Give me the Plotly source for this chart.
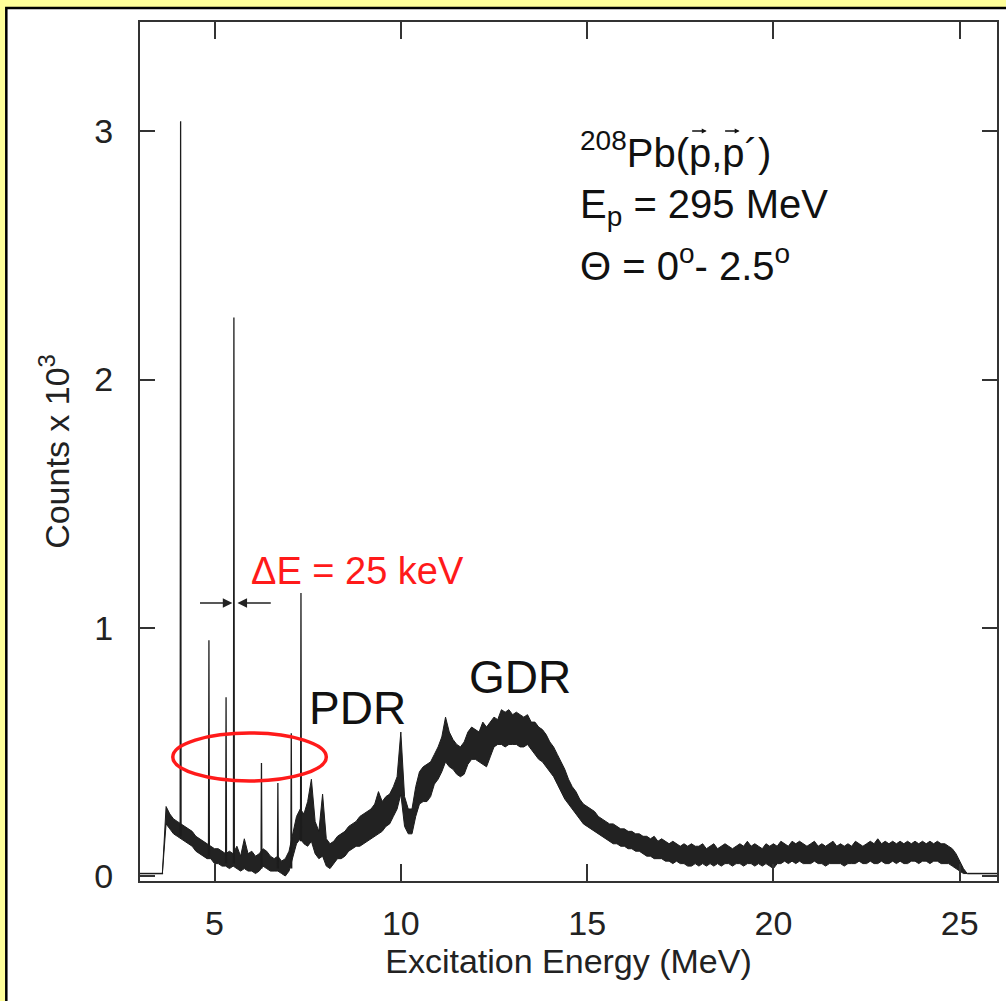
import numpy as np
import plotly.graph_objects as go

# ---------------- data ----------------
# continuum envelope, 0.1 MeV grid starting at 3.6 MeV (counts x 10^3)
upper = [
    0.01, 0.28, 0.25, 0.23,                                      # 3.6-3.9
    0.22, 0.21, 0.20, 0.19, 0.18, 0.16, 0.15, 0.14, 0.13, 0.12,  # 4.0-4.9
    0.11, 0.11, 0.10, 0.09, 0.10, 0.09, 0.12, 0.08, 0.15, 0.09,  # 5.0-5.9
    0.10, 0.08, 0.09, 0.11, 0.10, 0.08, 0.07, 0.08, 0.06, 0.07,  # 6.0-6.9
    0.10, 0.17, 0.24, 0.27, 0.25, 0.30, 0.39, 0.22, 0.18, 0.33,  # 7.0-7.9
    0.15, 0.13, 0.14, 0.16, 0.17, 0.18, 0.20, 0.21, 0.22, 0.24,  # 8.0-8.9
    0.25, 0.26, 0.27, 0.29, 0.34, 0.30, 0.32, 0.33, 0.36, 0.40,  # 9.0-9.9
    0.58, 0.32, 0.27, 0.27, 0.36, 0.42, 0.44, 0.45, 0.46, 0.49,  # 10.0-10.9
    0.52, 0.56, 0.64, 0.58, 0.55, 0.53, 0.52, 0.54, 0.58, 0.60,  # 11.0-11.9
    0.59, 0.58, 0.62, 0.60, 0.62, 0.64, 0.63, 0.67, 0.66, 0.67,  # 12.0-12.9
    0.65, 0.66, 0.65, 0.64, 0.65, 0.62, 0.62, 0.60, 0.59, 0.57,  # 13.0-13.9
    0.54, 0.52, 0.49, 0.46, 0.43, 0.39, 0.36, 0.34, 0.31, 0.29,  # 14.0-14.9
    0.28, 0.27, 0.26, 0.24, 0.23, 0.22, 0.21, 0.21, 0.20, 0.19,  # 15.0-15.9
    0.19, 0.18, 0.18, 0.17, 0.17, 0.16, 0.16, 0.15, 0.16, 0.14,  # 16.0-16.9
    0.15, 0.14, 0.13, 0.14, 0.13, 0.12, 0.13, 0.12, 0.13, 0.12,  # 17.0-17.9
    0.12, 0.13, 0.11, 0.12, 0.13, 0.11, 0.12, 0.13, 0.12, 0.11,  # 18.0-18.9
    0.12, 0.13, 0.12, 0.14, 0.12, 0.13, 0.12, 0.11, 0.13, 0.12,  # 19.0-19.9
    0.13, 0.12, 0.14, 0.13, 0.12, 0.14, 0.13, 0.14, 0.13, 0.12,  # 20.0-20.9
    0.13, 0.14, 0.12, 0.13, 0.12, 0.13, 0.14, 0.12, 0.13, 0.12,  # 21.0-21.9
    0.13, 0.12, 0.14, 0.13, 0.12, 0.13, 0.14, 0.13, 0.15, 0.13,  # 22.0-22.9
    0.14, 0.13, 0.14, 0.13, 0.14, 0.13, 0.14, 0.13, 0.14, 0.13,  # 23.0-23.9
    0.14, 0.13, 0.14, 0.13, 0.14, 0.13, 0.13, 0.12, 0.11, 0.09,  # 24.0-24.9
    0.06, 0.03, 0.01,                                            # 25.0-25.2
]
lower = [
    0.01, 0.21, 0.19, 0.17,
    0.16, 0.15, 0.14, 0.13, 0.12, 0.10, 0.09, 0.08, 0.07, 0.07,
    0.05, 0.05, 0.04, 0.04, 0.03, 0.04, 0.03, 0.02, 0.03, 0.02,
    0.02, 0.01, 0.02, 0.04, 0.03, 0.02, 0.02, 0.02, 0.01, 0.00,
    0.02, 0.08, 0.13, 0.15, 0.13, 0.12, 0.14, 0.09, 0.07, 0.08,
    0.04, 0.03, 0.05, 0.07, 0.07, 0.08, 0.10, 0.11, 0.12, 0.12,
    0.13, 0.14, 0.15, 0.16, 0.17, 0.18, 0.20, 0.21, 0.24, 0.27,
    0.33, 0.20, 0.17, 0.17, 0.24, 0.29, 0.30, 0.30, 0.32, 0.37,
    0.39, 0.42, 0.46, 0.44, 0.43, 0.41, 0.40, 0.41, 0.45, 0.47,
    0.47, 0.46, 0.45, 0.44, 0.48, 0.52, 0.53, 0.53, 0.52, 0.53,
    0.53, 0.53, 0.52, 0.52, 0.53, 0.51, 0.49, 0.47, 0.46, 0.44,
    0.42, 0.40, 0.37, 0.34, 0.31, 0.29, 0.27, 0.25, 0.23, 0.21,
    0.20, 0.19, 0.18, 0.17, 0.16, 0.15, 0.14, 0.13, 0.13, 0.12,
    0.12, 0.11, 0.11, 0.10, 0.10, 0.09, 0.08, 0.08, 0.07, 0.07,
    0.07, 0.06, 0.06, 0.05, 0.06, 0.05, 0.05, 0.04, 0.04, 0.05,
    0.04, 0.05, 0.04, 0.05, 0.04, 0.05, 0.04, 0.05, 0.05, 0.04,
    0.05, 0.05, 0.04, 0.05, 0.05, 0.04, 0.05, 0.04, 0.05, 0.04,
    0.03, 0.05, 0.05, 0.06, 0.05, 0.06, 0.05, 0.06, 0.05, 0.05,
    0.05, 0.06, 0.05, 0.05, 0.04, 0.05, 0.05, 0.05, 0.05, 0.04,
    0.05, 0.05, 0.05, 0.06, 0.05, 0.05, 0.06, 0.05, 0.05, 0.06,
    0.05, 0.05, 0.06, 0.05, 0.06, 0.05, 0.05, 0.06, 0.06, 0.05,
    0.06, 0.06, 0.05, 0.06, 0.06, 0.05, 0.05, 0.05, 0.04, 0.03,
    0.02, 0.01, 0.01,
]
grid_start = 3.6
grid_step = 0.1

# flat zero-count regions outside the measured window
baseline_low_E = [3.0, 3.62]
baseline_high_E = [25.2, 26.0]
baseline_value = 0.01

# sharp discrete transitions (MeV, peak height, local continuum)
peak_E = [4.09, 4.85, 5.31, 5.52, 6.26, 6.70, 7.06, 7.32]
peak_height = [3.04, 0.95, 0.72, 2.25, 0.455, 0.375, 0.575, 1.14]
peak_base = [0.16, 0.08, 0.05, 0.05, 0.03, 0.03, 0.03, 0.14]

x_ticks = [5, 10, 15, 20, 25]
y_ticks = [0, 1, 2, 3]

# ---------------- figure ----------------
energy = np.round(grid_start + grid_step * np.arange(len(upper)), 2)

FONT = "Liberation Sans, Arial, sans-serif"
INK = "#1c1c1c"
PLOT_H = 859.0


def py2paper(py):
    return (881 - py) / PLOT_H


def px2paper(px):
    return (px - 140) / PLOT_H


fig = go.Figure()

fig.add_trace(go.Scatter(x=energy, y=lower, mode="lines",
                         line=dict(color=INK, width=1), hoverinfo="skip", showlegend=False))
fig.add_trace(go.Scatter(x=energy, y=upper, mode="lines", fill="tonexty",
                         fillcolor="#222222",
                         line=dict(color=INK, width=1), hoverinfo="skip", showlegend=False))

for bE in (baseline_low_E, baseline_high_E):
    fig.add_trace(go.Scatter(x=bE, y=[baseline_value] * len(bE), mode="lines",
                             line=dict(color=INK, width=1.5), hoverinfo="skip", showlegend=False))

px_, py_ = [], []
for e, h, b in zip(peak_E, peak_height, peak_base):
    px_ += [e - 0.012, e, e + 0.012, None]
    py_ += [b, h, b, None]
fig.add_trace(go.Scatter(x=px_, y=py_, mode="lines",
                         line=dict(color=INK, width=1.3), hoverinfo="skip", showlegend=False))

# white panel with black border on yellow background
fig.add_shape(type="rect", xref="paper", yref="paper",
              x0=px2paper(6), x1=1.05, y0=-0.2, y1=py2paper(8),
              fillcolor="white", line=dict(color="black", width=2.5), layer="below")

# red ellipse
fig.add_shape(type="circle", xref="x", yref="y",
              x0=3.88, x1=8.0, y0=0.383, y1=0.576,
              line=dict(color="#ff1a1a", width=3.5))

ann_font = dict(family=FONT, size=40, color="#111")
fig.add_annotation(x=px2paper(579), y=py2paper(150), xref="paper", yref="paper",
                   text="<sup>208</sup>Pb(p,p\u00b4)", showarrow=False,
                   xanchor="left", yanchor="middle", font=ann_font)
# vector arrows over the two p's (drawn as small arrow marks)
for ax_px in (700, 733):
    fig.add_annotation(x=px2paper(ax_px + 8), y=py2paper(131), xref="paper", yref="paper",
                       ax=-16, ay=0, text="", showarrow=True, arrowhead=2,
                       arrowsize=0.7, arrowwidth=1.4, arrowcolor="#111")
fig.add_annotation(x=px2paper(579), y=py2paper(207), xref="paper", yref="paper",
                   text="E<sub>p</sub> = 295 MeV", showarrow=False,
                   xanchor="left", yanchor="middle", font=ann_font)
fig.add_annotation(x=px2paper(579), y=py2paper(263), xref="paper", yref="paper",
                   text="\u0398 = 0<sup>o</sup>- 2.5<sup>o</sup>", showarrow=False,
                   xanchor="left", yanchor="middle", font=ann_font)

fig.add_annotation(x=8.85, y=0.675, text="PDR", showarrow=False,
                   font=dict(family=FONT, size=46, color="#111"))
fig.add_annotation(x=13.2, y=0.80, text="GDR", showarrow=False,
                   font=dict(family=FONT, size=46, color="#111"))

fig.add_annotation(x=5.93, y=1.23, text="\u0394E = 25 keV", showarrow=False,
                   xanchor="left", yanchor="middle",
                   font=dict(family=FONT, size=38, color="#ff1a1a"))

# resolution arrows
fig.add_annotation(x=5.48, y=1.10, ax=4.57, ay=1.10, axref="x", ayref="y",
                   text="", showarrow=True, arrowhead=2, arrowsize=1.2,
                   arrowwidth=1.6, arrowcolor="#222")
fig.add_annotation(x=5.615, y=1.10, ax=6.55, ay=1.10, axref="x", ayref="y",
                   text="", showarrow=True, arrowhead=2, arrowsize=1.2,
                   arrowwidth=1.6, arrowcolor="#222")

axis_common = dict(showline=True, linecolor="#333", linewidth=2, mirror="ticks",
                   ticks="inside", tickcolor="#333", tickwidth=1.5,
                   showgrid=False, zeroline=False,
                   tickfont=dict(family=FONT, size=34, color="#222"))

fig.update_xaxes(range=[3.0, 26.0], tickvals=x_ticks, ticklen=17,
                 ticklabelstandoff=11,
                 title=dict(text="Excitation Energy (MeV)", standoff=8,
                            font=dict(family=FONT, size=34, color="#222")),
                 **axis_common)
fig.update_yaxes(range=[-0.02, 3.44], tickvals=y_ticks, ticklen=15,
                 ticklabelstandoff=18,
                 title=dict(text="Counts x 10<sup>3</sup>", standoff=14,
                            font=dict(family=FONT, size=34, color="#222")),
                 **axis_common)

fig.update_layout(width=1006, height=1001,
                  margin=dict(l=140, r=7, t=22, b=120),
                  paper_bgcolor="#ffff99", plot_bgcolor="white",
                  showlegend=False)

fig.write_html("out.html",
               config={"displayModeBar": False},
               post_script="document.body.style.margin='0';"
                           "document.documentElement.style.overflow='hidden';"
                           "document.body.style.overflow='hidden';")
